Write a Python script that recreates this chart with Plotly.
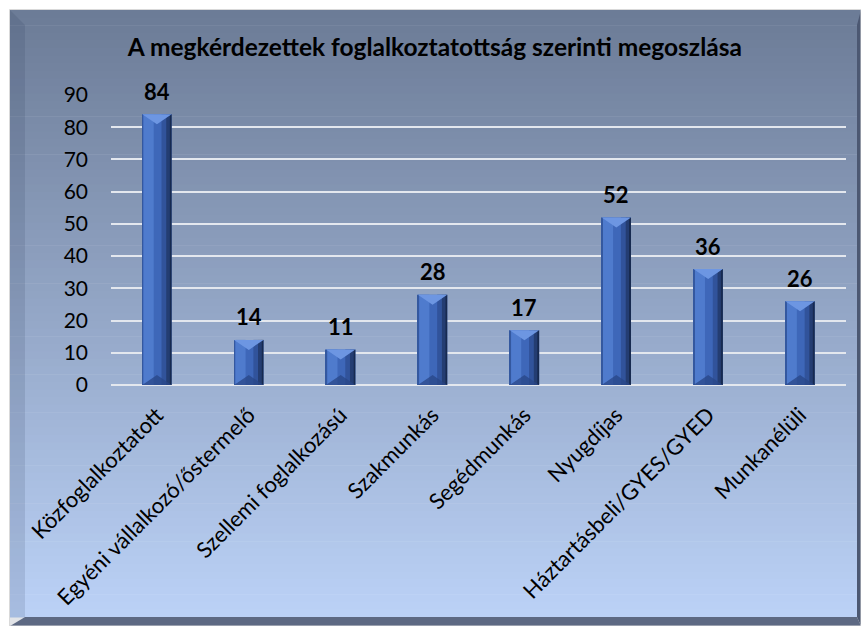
import plotly.graph_objects as go

# ---- data ----
categories = ["Közfoglalkoztatott", "Egyéni vállalkozó/őstermelő", "Szellemi foglalkozású",
              "Szakmunkás", "Segédmunkás", "Nyugdíjas", "Háztartásbeli/GYES/GYED", "Munkanélüli"]
values = [84, 14, 11, 28, 17, 52, 36, 26]
y_ticks = [0, 10, 20, 30, 40, 50, 60, 70, 80, 90]
title_text = "A megkérdezettek foglalkoztatottság szerinti megoszlása"

# ---- layout geometry (pixels) ----
W_FIG, H_FIG = 861, 626
L, R, T, B = 111, 15, 95, 241
PW = W_FIG - L - R
PH = H_FIG - T - B
FONT = "Lato, 'Open Sans', sans-serif"

def px(x):
    return (x - L) / PW

def py(y):
    return (H_FIG - B - y) / PH

xs = list(range(len(categories)))
BW = 0.32

fig = go.Figure()

def strip(offset, width, color):
    fig.add_trace(go.Bar(x=xs, y=values, width=[width] * len(xs), offset=[offset] * len(xs),
                         marker=dict(color=color, line=dict(width=0)), hoverinfo="skip",
                         showlegend=False))

strip(-BW / 2, BW, "#3e67b9")
strip(-BW / 2 + 0.015, 0.11, "#4f7bcd")
strip(BW / 2 - 0.11, 0.05, "#31539b")
strip(BW / 2 - 0.06, 0.04, "#243d72")
strip(BW / 2 - 0.022, 0.022, "#172a50")
strip(-BW / 2, 0.008, "#34589f")

# bevel triangles (depth ~10px in data units)
d = 10 * 90 / PH
tx, ty, bx, by = [], [], [], []
for i, v in zip(xs, values):
    tx += [i - BW / 2, i + BW / 2, i, i - BW / 2, None]
    ty += [v, v, v - d, v, None]
    bx += [i - BW / 2, i + BW / 2, i, i - BW / 2, None]
    by += [0, 0, d, 0, None]
fig.add_trace(go.Scatter(x=tx, y=ty, mode="lines", fill="toself", fillcolor="#6d96e2",
                         line=dict(width=0), hoverinfo="skip", showlegend=False))
fig.add_trace(go.Scatter(x=bx, y=by, mode="lines", fill="toself", fillcolor="rgba(40,70,135,0.75)",
                         line=dict(width=0), hoverinfo="skip", showlegend=False))

# data labels
for i, v in zip(xs, values):
    fig.add_annotation(x=i, y=v, yshift=23, text=f"<b>{v}</b>", showarrow=False,
                       font=dict(family=FONT, size=22, color="black"), yanchor="middle")

# ---- background gradient and bevel frame ----
shapes = []
top_c = (107, 123, 150)
bot_c = (188, 210, 247)
y0, y1 = 10, 617
N = 80
for k in range(N):
    a = y0 + (y1 - y0) * k / N
    b = y0 + (y1 - y0) * (k + 1) / N + 0.6
    t = (k + 0.5) / N
    c = tuple(round(top_c[j] + (bot_c[j] - top_c[j]) * t) for j in range(3))
    shapes.append(dict(type="rect", xref="paper", yref="paper", x0=px(10), x1=px(861),
                       y0=py(b), y1=py(a), fillcolor=f"rgb{c}", line=dict(width=0), layer="below"))

def poly(points, color):
    path = "M " + " L ".join(f"{px(x)},{py(y)}" for x, y in points) + " Z"
    shapes.append(dict(type="path", xref="paper", yref="paper", path=path,
                       fillcolor=color, line=dict(width=0), layer="below"))

poly([(10, 10), (25, 25), (25, 617), (10, 626)], "rgba(30,45,80,0.13)")
poly([(10, 626), (25, 617), (857, 617), (861, 626)], "#5d6983")
poly([(861, 10), (857, 25), (857, 617), (861, 626)], "#4c5872")
shapes.append(dict(type="rect", xref="paper", yref="paper", x0=px(9.5), x1=px(861),
                   y0=py(626), y1=py(9.5), fillcolor="rgba(0,0,0,0)",
                   line=dict(width=1, color="#d9d9d9"), layer="below"))

fig.update_layout(
    width=W_FIG, height=H_FIG,
    margin=dict(l=L, r=R, t=T, b=B, pad=0),
    paper_bgcolor="white",
    plot_bgcolor="rgba(0,0,0,0)",
    barmode="overlay",
    showlegend=False,
    shapes=shapes,
    title=dict(text=f"<b>{title_text}</b>", x=0.505, xref="container",
               y=1 - 47 / H_FIG, yanchor="middle", xanchor="center",
               font=dict(family=FONT, size=24.5, color="black")),
    font=dict(family=FONT, color="black"),
    xaxis=dict(range=[-0.5, len(categories) - 0.5], tickvals=xs, ticktext=categories,
               tickangle=-45, showgrid=False, zeroline=False, showline=False,
               ticks="", ticklabelstandoff=12, tickfont=dict(family=FONT, size=22, color="black")),
    yaxis=dict(range=[0, 90], tickvals=y_ticks, showgrid=True, gridcolor="#e3e7ee", gridwidth=2,
               zeroline=True, zerolinecolor="#e3e7ee", zerolinewidth=2, showline=False,
               ticks="", ticklabelstandoff=22, tickfont=dict(family=FONT, size=21, color="black")),
)

fig.write_html("out.html", config={"displayModeBar": False},
               post_script="document.body.style.margin='0';document.body.style.overflow='hidden';")
